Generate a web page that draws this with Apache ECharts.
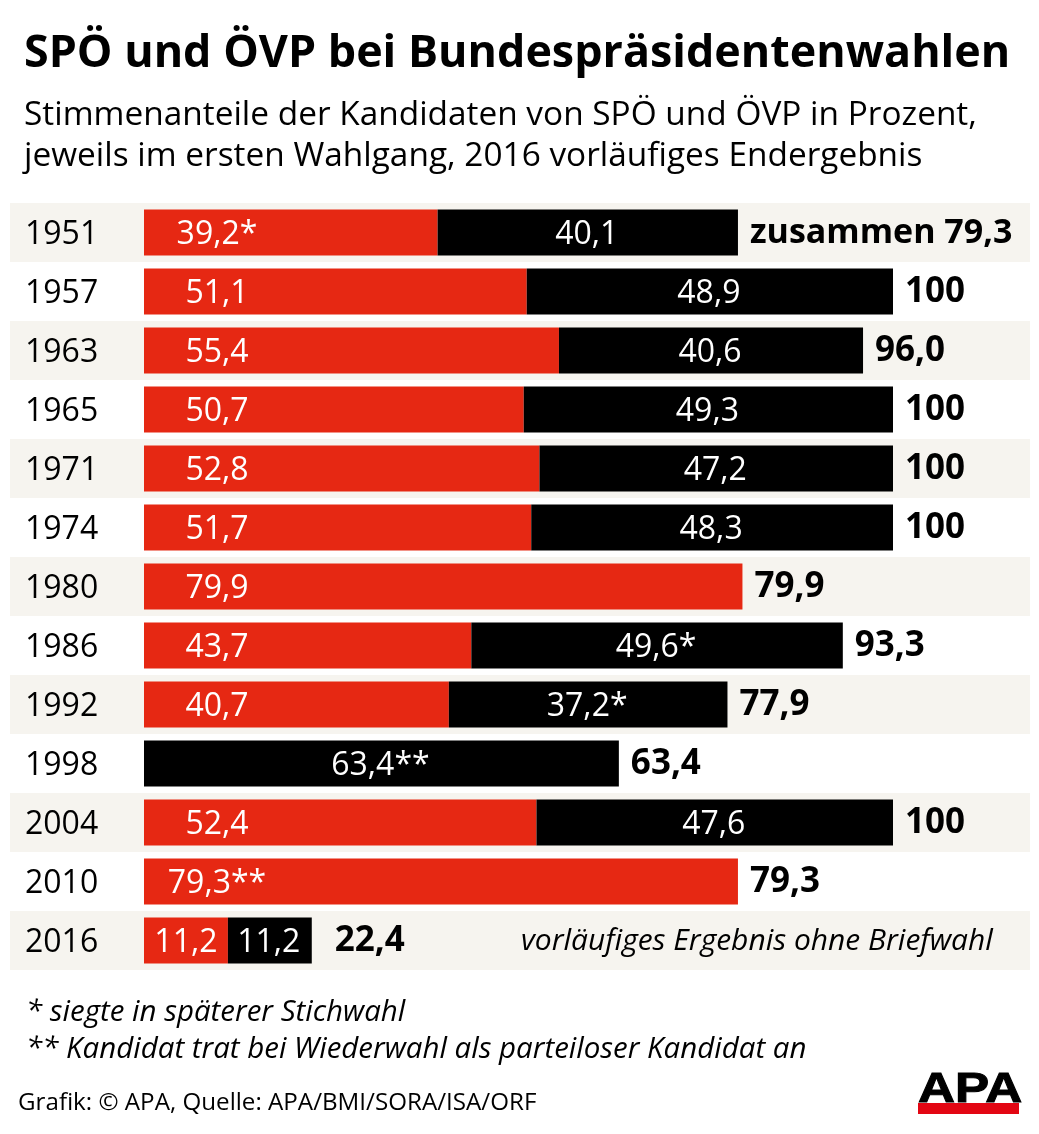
<!DOCTYPE html>
<html><head><meta charset="utf-8">
<style>html,body{margin:0;padding:0;background:#fff}#c{width:1039px;height:1134px}</style>
<script src="https://cdn.jsdelivr.net/npm/echarts@6/dist/echarts.min.js"></script>
</head><body><div id="c"></div>
<script>
const years = ['1951','1957','1963','1965','1971','1974','1980','1986','1992','1998','2004','2010','2016'];
const spoValues = [39.2,51.1,55.4,50.7,52.8,51.7,79.9,43.7,40.7,null,52.4,79.3,11.2];
const oevpValues = [40.1,48.9,40.6,49.3,47.2,48.3,null,49.6,37.2,63.4,47.6,null,11.2];
const totals = [79.3,100,96.0,100,100,100,79.9,93.3,77.9,63.4,100,79.3,22.4];
const spoLabels = ['39,2*','51,1','55,4','50,7','52,8','51,7','79,9','43,7','40,7','','52,4','79,3**','11,2'];
const oevpLabels = ['40,1','48,9','40,6','49,3','47,2','48,3','','49,6*','37,2*','63,4**','47,6','','11,2'];
const totalLabels = ['zusammen 79,3','100','96,0','100','100','100','79,9','93,3','77,9','63,4','100','79,3','22,4'];

const FONT = '"Open Sans"';
const RED = '#e62813';
const BLACK = '#000000';
const BAND = '#f6f4ef';
const PX = 7.49;
const gridL = 10, gridW = 1020, zeroX = 144;
const axisMin = -(zeroX - gridL) / PX;
const axisMax = (gridL + gridW - zeroX) / PX;

function txt(x, y, text, size, opts) {
  opts = opts || {};
  return {
    type: 'text', x: x, y: y, z: 100, scaleX: opts.sx || 1, silent: true,
    style: {
      text: text, x: 0, y: 0, fill: opts.fill || '#000',
      font: (opts.italic ? 'italic ' : '') + (opts.bold ? 'bold ' : '') + size + 'px ' + FONT,
      textAlign: 'left', textVerticalAlign: 'middle'
    }
  };
}

const chart = echarts.init(document.getElementById('c'), null, {renderer: 'canvas'});
chart.setOption({
  animation: false,
  backgroundColor: '#fff',
  grid: {left: gridL, top: 203, width: gridW, height: 767, containLabel: false},
  xAxis: {type: 'value', min: axisMin, max: axisMax, show: false},
  yAxis: {
    type: 'category', data: years, inverse: true,
    axisLine: {show: false}, axisTick: {show: false},
    axisLabel: {inside: true, margin: 15, color: '#000', fontSize: 32, fontFamily: FONT, verticalAlign: 'top', lineHeight: 4},
    splitLine: {show: false},
    splitArea: {show: true, areaStyle: {color: [BAND, '#ffffff']}}
  },
  series: [
    {
      name: 'SPÖ', type: 'bar', stack: 'a', barWidth: 46, z: 3,
      itemStyle: {color: RED},
      data: spoValues.map((v, i) => ({
        value: v,
        label: i === 12 ? {position: 'inside'} : {}
      })),
      label: {
        show: true, position: [73, 23], align: 'center', verticalAlign: 'middle', offset: [0, 2],
        color: '#fff', fontSize: 32, fontFamily: FONT,
        formatter: p => spoLabels[p.dataIndex]
      }
    },
    {
      name: 'ÖVP', type: 'bar', stack: 'a', barWidth: 46, z: 3,
      itemStyle: {color: BLACK},
      data: oevpValues,
      label: {
        show: true, position: 'inside', offset: [-1, 2],
        color: '#fff', fontSize: 32, fontFamily: FONT,
        formatter: p => oevpLabels[p.dataIndex]
      }
    },
    {
      name: 'Gesamt', type: 'bar', barWidth: 46, barGap: '-100%', z: 1,
      itemStyle: {color: 'transparent'},
      data: totals.map((v, i) => ({
        value: v,
        label: i === 12 ? {distance: 23} : (i === 0 ? {fontSize: 34} : {})
      })),
      label: {
        show: true, position: 'right', distance: 12, offset: [0, 1],
        color: '#000', fontWeight: 'bold', fontSize: 35, fontFamily: FONT,
        formatter: p => totalLabels[p.dataIndex]
      }
    }
  ],
  graphic: [
    txt(24, 54, 'SPÖ und ÖVP bei Bundespräsidentenwahlen', 44, {bold: true, sx: 1.019}),
    txt(24, 116, 'Stimmenanteile der Kandidaten von SPÖ und ÖVP in Prozent,', 33, {sx: 1.012}),
    txt(24, 157, 'jeweils im ersten Wahlgang, 2016 vorläufiges Endergebnis', 33, {sx: 1.012}),
    txt(521, 942, 'vorläufiges Ergebnis ohne Briefwahl', 29, {italic: true, sx: 1.033}),
    txt(26, 1013, '* siegte in späterer Stichwahl', 29, {italic: true, sx: 1.017}),
    txt(26, 1050, '** Kandidat trat bei Wiederwahl als parteiloser Kandidat an', 29, {italic: true, sx: 1.017}),
    txt(18, 1103, 'Grafik: © APA, Quelle: APA/BMI/SORA/ISA/ORF', 24, {sx: 1.007}),
    {type: 'rect', silent: true, z: 100, shape: {x: 918, y: 1103, width: 101, height: 11}, style: {fill: '#e30613'}},
    {type: 'text', silent: true, z: 99, x: 918, y: 1090, scaleX: 1.19,
      style: {text: 'APA', x: 0, y: 0, fill: '#000', stroke: '#000', lineWidth: 1, font: 'bold 43px "Liberation Sans"', textAlign: 'left', textVerticalAlign: 'middle'}}
  ]
});
</script></body></html>
